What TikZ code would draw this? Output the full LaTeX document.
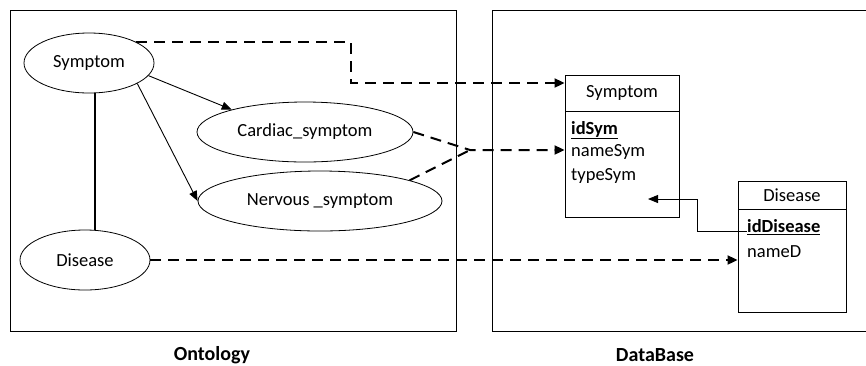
\documentclass[tikz,border=0pt]{standalone}
\usepackage{fontspec}
\setmainfont{Carlito}
\usetikzlibrary{arrows.meta,shapes.geometric,positioning}

\begin{document}
\begin{tikzpicture}[
x=1pt, y=-1pt,
font=\fontsize{18.5}{22}\selectfont,
concept/.style={draw, ellipse, line width=0.8pt, inner sep=0pt},
tblpart/.style={draw, line width=0.9pt, inner sep=0pt, minimum width=#1},
attr/.style={anchor=west, inner sep=0pt},
caption/.style={font=\fontsize{20}{24}\selectfont\bfseries},
dline/.style={line width=2pt, dash pattern=on 11pt off 7pt, -{Triangle[length=10pt,width=9pt]}},
isa/.style={line width=0.9pt, -{Triangle[length=10pt,width=8pt]}},
fkline/.style={line width=0.9pt, -{Triangle[length=10pt,width=8pt]}},
]
\useasboundingbox (0,0) rectangle (866,365);
\draw[line width=0.9pt] (10,10) rectangle (456,331);
\draw[line width=0.9pt] (492,10) rectangle (880,331);

\node[concept, minimum width=130pt, minimum height=60pt] (symO) at (89,63) {Symptom};
\node[concept, minimum width=216pt, minimum height=60pt] (cardO) at (305,132) {Cardiac\_symptom};
\node[concept, minimum width=244pt, minimum height=60pt] (nervO) at (320,201) {Nervous \_symptom};
\node[concept, minimum width=130pt, minimum height=60pt] (disO) at (85,260) {Disease};

\node[tblpart=114pt, minimum height=36pt] (symH) at (622,93) {Symptom};
\node[tblpart=114pt, minimum height=106pt, below=0pt of symH] (symB) {};
\node[attr] (idSym) at (571,130) {\textbf{\underline{idSym}}};
\node[attr] (nameSym) at (571,152) {nameSym};
\node[attr] (typeSym) at (571,176) {typeSym};

\node[tblpart=108pt, minimum height=28pt] (disH) at (792,195) {Disease};
\node[tblpart=108pt, minimum height=103pt, below=0pt of disH] (disB) {};
\node[attr] (idDis) at (747,227) {\textbf{\underline{idDisease}}};
\node[attr] (nameD) at (747,252) {nameD};

\node[caption] (ontoLbl) at (212,355) {Ontology};
\node[caption] (dbLbl) at (655,355) {DataBase};

\draw[line width=2pt] ([xshift=6pt]symO.south) -- ([xshift=6pt]symO.south |- disO.north);
\draw[isa] (symO.-12) -- (cardO.163);
\draw[isa] (symO.-23) -- (nervO.west);

\coordinate (bendA) at (351,83);
\coordinate (meet) at (470,150);
\coordinate (fkEnd) at (648,199);
\draw[dline] (symO.24) -| (bendA) -- (bendA -| symH.west);
\draw[dline] (cardO.east) -- (meet) -- (meet -| symB.west);
\draw[dline, -] (nervO.13) -- (meet);
\draw[dline] (disO.east) -- (disO.east -| disB.west);
\draw[fkline] ([yshift=-4pt]idDis.west) -- ++(-50,0) |- (fkEnd);
\end{tikzpicture}
\end{document}
